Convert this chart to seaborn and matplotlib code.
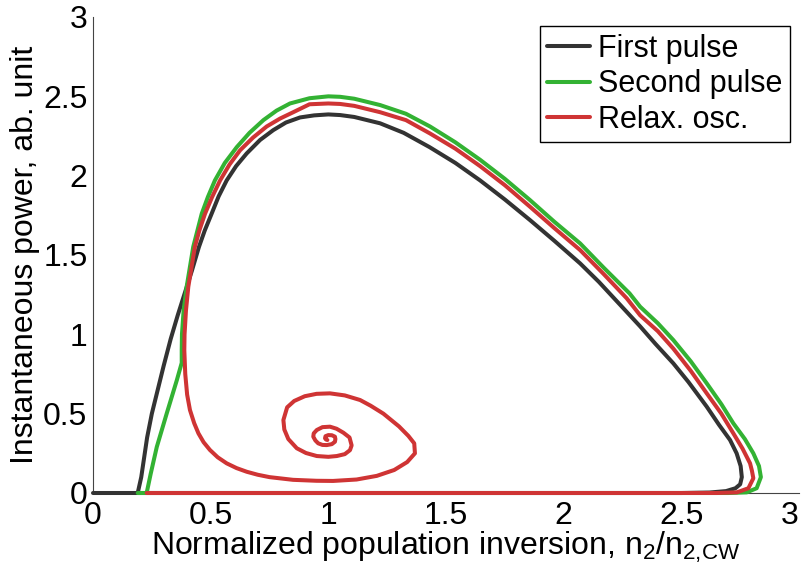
import seaborn as sns
import matplotlib.pyplot as plt
import matplotlib.ticker as mticker
import pandas as pd

# Trajectories (normalized inversion, instantaneous power)
black_x = [0.00, 2.50, 2.62, 2.69, 2.73, 2.75, 2.757, 2.752, 2.735, 2.707,
           2.66, 2.608, 2.53, 2.466, 2.39, 2.325, 2.25, 2.15, 2.07, 1.96,
           1.857, 1.75, 1.645, 1.54, 1.43, 1.32, 1.22, 1.11, 1.05, 1.00,
           0.94, 0.88, 0.82, 0.766, 0.71, 0.653, 0.608, 0.568, 0.534, 0.504,
           0.475, 0.45, 0.42, 0.39, 0.36, 0.33, 0.30, 0.275, 0.25, 0.23,
           0.215, 0.205, 0.19]
black_y = [0.00, 0.00, 0.003, 0.012, 0.03, 0.055, 0.10, 0.17, 0.25, 0.334,
           0.43, 0.544, 0.70, 0.817, 0.94, 1.05, 1.17, 1.33, 1.447, 1.59,
           1.72, 1.85, 1.97, 2.08, 2.18, 2.27, 2.33, 2.37, 2.382, 2.386,
           2.38, 2.367, 2.335, 2.287, 2.225, 2.14, 2.06, 1.97, 1.87, 1.76,
           1.655, 1.55, 1.40, 1.26, 1.12, 0.97, 0.80, 0.65, 0.50, 0.35,
           0.20, 0.10, 0.00]

green_x = [0.19, 2.70, 2.778, 2.82, 2.838, 2.83, 2.806, 2.77, 2.721, 2.67,
           2.608, 2.54, 2.466, 2.40, 2.325, 2.28, 2.17, 2.07, 1.96, 1.857,
           1.75, 1.645, 1.54, 1.432, 1.33, 1.22, 1.11, 1.05, 1.00, 0.92,
           0.837, 0.78, 0.724, 0.665, 0.611, 0.56, 0.518, 0.488, 0.462, 0.426,
           0.398, 0.385, 0.378, 0.377, 0.377, 0.356, 0.313, 0.271, 0.245, 0.228]
green_y = [0.00, 0.00, 0.004, 0.03, 0.10, 0.17, 0.25, 0.34, 0.439, 0.56,
           0.691, 0.83, 0.964, 1.07, 1.174, 1.258, 1.42, 1.573, 1.71, 1.846,
           1.98, 2.10, 2.21, 2.31, 2.39, 2.445, 2.485, 2.497, 2.50, 2.488,
           2.455, 2.41, 2.35, 2.27, 2.18, 2.08, 1.97, 1.865, 1.76, 1.552,
           1.30, 1.15, 1.00, 0.90, 0.82, 0.71, 0.50, 0.29, 0.12, 0.00]

red_x = [0.228, 2.65, 2.736, 2.785, 2.806, 2.80, 2.792, 2.76, 2.721, 2.67,
         2.608, 2.54, 2.466, 2.40, 2.325, 2.268, 2.17, 2.07, 1.96, 1.857,
         1.75, 1.645, 1.54, 1.432, 1.33, 1.22, 1.11, 1.05, 1.00, 0.92,
         0.851, 0.795, 0.738, 0.68, 0.625, 0.58, 0.54, 0.506, 0.476, 0.452,
         0.433, 0.405, 0.395, 0.389, 0.388, 0.392, 0.40, 0.412, 0.43, 0.448,
         0.47, 0.497, 0.53, 0.568, 0.61, 0.653, 0.70, 0.75, 0.85, 0.95,
         1.02, 1.12, 1.206, 1.28, 1.335, 1.368, 1.365, 1.34, 1.30, 1.234,
         1.18, 1.135, 1.07, 1.007, 0.95, 0.90, 0.855, 0.825, 0.809, 0.813,
         0.83, 0.866, 0.905, 0.951, 1.0, 1.036, 1.07, 1.092, 1.099, 1.09,
         1.064, 1.035, 1.007, 0.975, 0.951, 0.938, 0.936, 0.945, 0.957, 0.975,
         0.993, 1.015, 1.028, 1.03, 1.028, 1.015, 1.0, 0.988, 0.986, 0.99,
         0.996]
red_y = [0.00, 0.00, 0.004, 0.03, 0.093, 0.14, 0.187, 0.28, 0.376, 0.50,
         0.628, 0.77, 0.91, 1.02, 1.12, 1.227, 1.38, 1.531, 1.67, 1.804,
         1.94, 2.06, 2.17, 2.266, 2.35, 2.40, 2.44, 2.452, 2.455, 2.45,
         2.40, 2.36, 2.31, 2.24, 2.16, 2.07, 1.97, 1.865, 1.76, 1.655,
         1.552, 1.30, 1.15, 1.00, 0.90, 0.75, 0.62, 0.523, 0.44, 0.376,
         0.32, 0.271, 0.225, 0.187, 0.157, 0.134, 0.115, 0.10, 0.083, 0.077,
         0.076, 0.085, 0.108, 0.145, 0.195, 0.25, 0.313, 0.36, 0.42, 0.50,
         0.55, 0.586, 0.615, 0.628, 0.625, 0.61, 0.58, 0.54, 0.46, 0.40,
         0.34, 0.282, 0.252, 0.233, 0.228, 0.233, 0.245, 0.27, 0.30, 0.35,
         0.38, 0.405, 0.418, 0.415, 0.397, 0.376, 0.355, 0.331, 0.313, 0.303,
         0.302, 0.308, 0.323, 0.34, 0.355, 0.364, 0.365, 0.358, 0.345, 0.337,
         0.334]

series = ["First pulse", "Second pulse", "Relax. osc."]
colors = ["#333333", "#33b233", "#cf3434"]
ticks = [0, 0.5, 1, 1.5, 2, 2.5, 3]

df = pd.concat([
    pd.DataFrame({"n": black_x, "p": black_y, "series": series[0]}),
    pd.DataFrame({"n": green_x, "p": green_y, "series": series[1]}),
    pd.DataFrame({"n": red_x, "p": red_y, "series": series[2]}),
], ignore_index=True)

sns.set_theme(style="white")
plt.rcParams["font.family"] = ["Liberation Sans", "DejaVu Sans"]
plt.rcParams["mathtext.default"] = "regular"
plt.rcParams["xtick.direction"] = "in"
plt.rcParams["ytick.direction"] = "in"
plt.rcParams["text.color"] = "black"
plt.rcParams["axes.labelcolor"] = "black"
plt.rcParams["xtick.labelcolor"] = "black"
plt.rcParams["ytick.labelcolor"] = "black"

fig = plt.figure(figsize=(8.06, 5.76), dpi=100)
ax = fig.add_axes([93 / 806, 1 - 493 / 576, (799 - 93) / 806, (493 - 17) / 576])

sns.lineplot(
    data=df, x="n", y="p", hue="series", hue_order=series,
    palette=colors, sort=False, estimator=None, linewidth=2.9, ax=ax,
)
for line in ax.get_lines():
    line.set_clip_on(False)
    line.set_zorder(3)
    line.set_solid_joinstyle("round")

ax.set_xlim(0, 3)
ax.set_ylim(0, 3)
ax.set_xticks(ticks)
ax.set_yticks(ticks)
fmt = mticker.FormatStrFormatter("%g")
ax.xaxis.set_major_formatter(fmt)
ax.yaxis.set_major_formatter(fmt)
ax.tick_params(axis="both", labelsize=23, length=6, width=0.8, color="#444444")
ax.tick_params(axis="x", pad=6)
ax.tick_params(axis="y", pad=4)
# last x tick label sits at the figure edge, as in the reference; keep it inside
ax.get_xticklabels()[-1].set_horizontalalignment("right")

for side in ["top", "right"]:
    ax.spines[side].set_visible(False)
for side in ["left", "bottom"]:
    ax.spines[side].set_color("#444444")
    ax.spines[side].set_linewidth(0.8)

ax.set_xlabel(r"Normalized population inversion, n$_2$/n$_{2{,}CW}$", fontsize=23, labelpad=-1)
ax.set_ylabel("Instantaneous power, ab. unit", fontsize=23, labelpad=2)

handles, labels = ax.get_legend_handles_labels()
for h in handles:
    h.set_linewidth(2.9)
leg = ax.legend(handles, labels, loc="upper right", fontsize=22, frameon=True,
                fancybox=False, edgecolor="black", framealpha=1,
                handlelength=1.4, handletextpad=0.25, labelspacing=0.18,
                borderpad=0.25, borderaxespad=0.3)
leg.get_frame().set_linewidth(1.0)

fig.savefig("out.png", dpi=100)
